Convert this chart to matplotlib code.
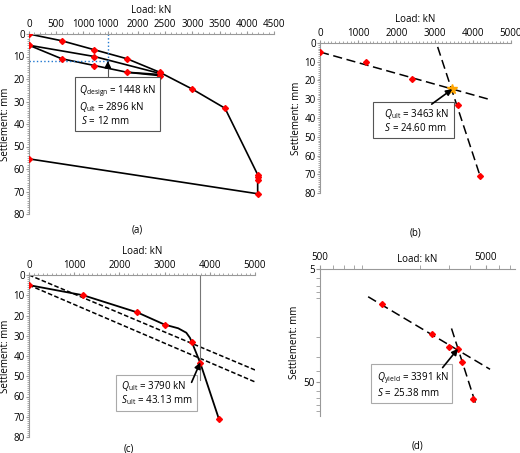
import matplotlib
matplotlib.use("Agg")
import matplotlib.pyplot as plt
from matplotlib.ticker import MultipleLocator, NullFormatter, FixedLocator, FixedFormatter

plt.rcParams['font.family'] = ['Open Sans', 'DejaVu Sans']
plt.rcParams['font.size'] = 7
plt.rcParams['mathtext.fontset'] = 'custom'
plt.rcParams['mathtext.it'] = 'Open Sans:italic'
plt.rcParams['mathtext.rm'] = 'Open Sans'

# ---- panel (a): load test loops ----
a_load = [0, 600, 1200, 1800, 2400, 3000, 3600, 4200, 4200, 4200, 4200, 0]
a_sett = [0, 3, 7, 11, 17, 24.5, 33, 62.5, 63.5, 65, 71, 55.5]
a_unload_load = [2400, 1200, 0]
a_unload_sett = [17.5, 10, 5]
a_reload_load = [0, 600, 1200, 1800, 2400]
a_reload_sett = [5, 11, 14, 17, 18.5]
a_extra_load = [1800, 2400]
a_extra_sett = [17, 18]
q_design, s_design = 1448, 12
a_ticks = [0, 500, 1000, 1448, 2000, 2500, 3000, 3500, 4000, 4500]
a_ticklabels = ['0', '500', '1000', '1000', '2000', '2500', '3000', '3500', '4000', '4500']

# ---- panel (b) ----
b_load = [0, 1200, 2400, 3600, 4200]
b_sett = [5, 10, 19, 33, 71]
b_line1_load = [0, 4400]
b_line1_sett = [4.8, 29.9]
b_line2_load = [3080, 4195]
b_line2_sett = [2.1, 71.2]
b_qult, b_s = 3463, 24.6

# ---- panel (c) ----
c_load = [0, 1200, 2400, 3000, 3600, 3790, 4200]
c_sett = [5, 10, 18.5, 24.5, 33, 43.5, 71]
c_curve_load = [0, 1200, 2400, 3000, 3300, 3480, 3560, 3600, 3790, 4200]
c_curve_sett = [5, 10, 18.5, 24.5, 26.3, 28.5, 31, 33, 43.5, 71]
c_dash1_load = [0, 5000]
c_dash1_sett = [0, 46.9]
c_dash2_load = [0, 5000]
c_dash2_sett = [5, 52.8]
c_qult, c_s = 3790, 43.13

# ---- panel (d): log-log ----
d_load = [1180, 2370, 2980, 3390, 3580, 4160]
d_sett = [10.1, 18.9, 24.6, 25.6, 33, 71]
d_line1_load = [975, 5290]
d_line1_sett = [8.8, 38.6]
d_line2_load = [3100, 4360]
d_line2_sett = [16.8, 80]
d_qy, d_s = 3391, 25.38

W, H = 520, 453
fig = plt.figure(figsize=(W / 100, H / 100), dpi=100)

def make_ax(l, r, t, b):
    return fig.add_axes([l / W, 1 - b / H, (r - l) / W, (b - t) / H])

def style_lin(ax, xstep):
    ax.set_ylim(80, 0)
    ax.xaxis.tick_top()
    ax.xaxis.set_label_position('top')
    for s in ['right', 'bottom']:
        ax.spines[s].set_visible(False)
    for s in ['top', 'left']:
        ax.spines[s].set_color('#999999')
    ax.yaxis.set_major_locator(MultipleLocator(10))
    ax.yaxis.set_minor_locator(MultipleLocator(1))
    ax.xaxis.set_minor_locator(MultipleLocator(xstep))
    ax.tick_params(which='both', color='#999999', length=2, pad=1)
    ax.tick_params(which='minor', length=1.5)
    ax.set_xlabel('Load: kN', labelpad=4)
    ax.set_ylabel('Settlement: mm', labelpad=2)

def box(ax, x, y, txt, ec='#555555'):
    ax.text(x, y, txt, transform=ax.transAxes, ha='left', va='top', fontsize=7,
            linespacing=1.1, zorder=7,
            bbox=dict(boxstyle='square,pad=0.4', fc='white', ec=ec, lw=0.8))

def arrow(ax, start, end):
    ax.annotate('', xy=end, xytext=start, zorder=8,
                arrowprops=dict(arrowstyle='-|>', color='black', lw=1.2,
                                shrinkA=0, shrinkB=0, mutation_scale=9))

red = dict(color='red', marker='D', markersize=3, linestyle='none', zorder=5)

# (a)
ax = make_ax(29, 274, 34, 214)
style_lin(ax, 100)
ax.set_xlim(0, 4500)
ax.xaxis.set_major_locator(FixedLocator(a_ticks))
ax.xaxis.set_major_formatter(FixedFormatter(a_ticklabels))
ax.plot(a_load, a_sett, 'k-', lw=1.2)
ax.plot(a_unload_load, a_unload_sett, 'k-', lw=1.2)
ax.plot(a_reload_load, a_reload_sett, 'k-', lw=1.2)
ax.plot(a_extra_load, a_extra_sett, 'k-', lw=1.2)
ax.plot(a_load, a_sett, **red)
ax.plot(a_unload_load, a_unload_sett, **red)
ax.plot(a_reload_load, a_reload_sett, **red)
ax.plot([q_design, q_design], [0, s_design], color='#1f77d0', ls=':', lw=1)
ax.plot([0, q_design], [s_design, s_design], color='#1f77d0', ls=':', lw=1)
ax.plot([q_design, q_design], [s_design, 20.6], color='#555555', lw=0.8)
arrow(ax, (q_design, 15), (q_design, s_design))
box(ax, 0.205, 0.725, '$Q_{\\rm design}$ = 1448 kN\n$Q_{\\rm ult}$ = 2896 kN\n $S$ = 12 mm')
ax.text(0.44, -0.06, '(a)', transform=ax.transAxes, ha='center', va='top')

# (b)
ax = make_ax(320, 511, 43, 193)
style_lin(ax, 100)
ax.set_xlim(0, 5000)
ax.xaxis.set_major_locator(MultipleLocator(1000))
ax.plot(b_line1_load, b_line1_sett, 'k--', lw=1.1, dashes=(6, 3))
ax.plot(b_line2_load, b_line2_sett, 'k--', lw=1.1, dashes=(6, 3))
ax.plot(b_load, b_sett, **red)
ax.plot([b_qult], [b_s], marker='*', color='orange', markersize=7, zorder=6)
arrow(ax, (2925, 32.6), (b_qult, b_s))
box(ax, 0.30, 0.575, '   $Q_{\\rm ult}$ = 3463 kN\n   $S$ = 24.60 mm')
ax.text(0.5, -0.23, '(b)', transform=ax.transAxes, ha='center', va='top')

# (c)
ax = make_ax(29, 255, 275, 437)
style_lin(ax, 100)
ax.set_xlim(0, 5000)
ax.xaxis.set_major_locator(MultipleLocator(1000))
ax.plot(c_dash1_load, c_dash1_sett, 'k--', lw=1.1, dashes=(3, 1.5))
ax.plot(c_dash2_load, c_dash2_sett, 'k--', lw=1.1, dashes=(3, 1.5))
ax.plot(c_curve_load, c_curve_sett, 'k-', lw=1.3)
ax.plot([c_qult, c_qult], [0, 52], color='#777777', lw=0.8)
ax.plot(c_load, c_sett, **red)
arrow(ax, (3597, 53), (c_qult, c_s))
box(ax, 0.40, 0.36, ' $Q_{\\rm ult}$ = 3790 kN\n $S_{\\rm ult}$ = 43.13 mm', ec='#aaaaaa')
ax.text(0.44, -0.04, '(c)', transform=ax.transAxes, ha='center', va='top')

# (d)
ax = make_ax(320, 515, 269, 416)
ax.set_xscale('log')
ax.set_yscale('log')
ax.set_xlim(500, 7480)
ax.set_ylim(100, 5)
ax.xaxis.tick_top()
ax.xaxis.set_label_position('top')
for s in ['right', 'bottom']:
    ax.spines[s].set_visible(False)
for s in ['top', 'left']:
    ax.spines[s].set_color('#999999')
ax.xaxis.set_major_locator(FixedLocator([500, 5000]))
ax.xaxis.set_major_formatter(FixedFormatter(['500', '5000']))
ax.xaxis.set_minor_formatter(NullFormatter())
ax.yaxis.set_major_locator(FixedLocator([5, 50]))
ax.yaxis.set_major_formatter(FixedFormatter(['5', '50']))
ax.yaxis.set_minor_formatter(NullFormatter())
ax.tick_params(which='both', color='#999999', length=3, pad=1)
ax.set_xlabel('Load: kN', labelpad=-7)
ax.set_ylabel('Settlement: mm', labelpad=2)
ax.plot(d_line1_load, d_line1_sett, 'k--', lw=1.1, dashes=(6, 3))
ax.plot(d_line2_load, d_line2_sett, 'k--', lw=1.1, dashes=(6, 3))
ax.plot(d_load, d_sett, **red)
arrow(ax, (2740, 37.3), (d_qy, d_s))
box(ax, 0.28, 0.31, ' $Q_{\\rm yield}$ = 3391 kN\n $S$ = 25.38 mm', ec='#aaaaaa')
ax.text(0.5, -0.17, '(d)', transform=ax.transAxes, ha='center', va='top')

fig.savefig('out.png', dpi=100)
